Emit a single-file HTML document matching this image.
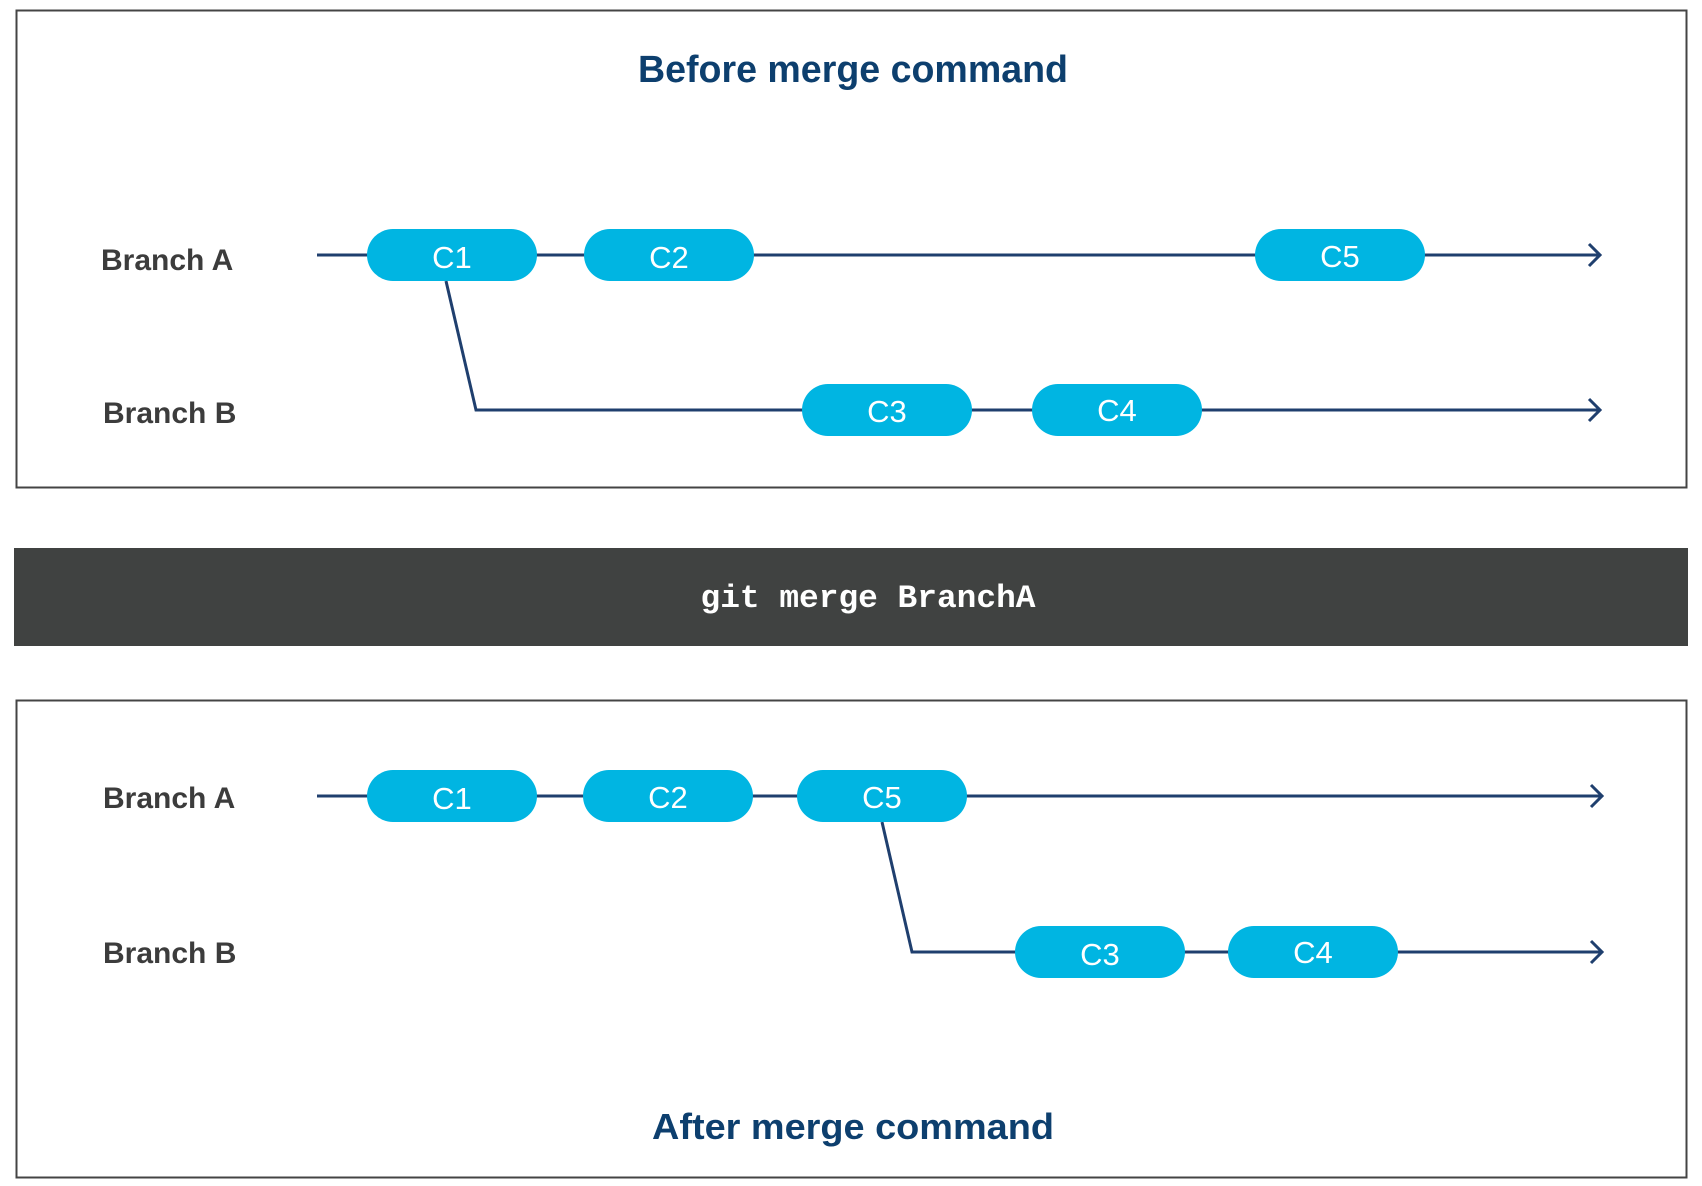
<!DOCTYPE html>
<html><head><meta charset="utf-8"><style>
html,body{margin:0;padding:0;background:#fff;}
svg{display:block;}
</style></head><body>
<svg width="1702" height="1186" viewBox="0 0 1702 1186" xmlns="http://www.w3.org/2000/svg">
<rect x="0" y="0" width="1702" height="1186" fill="#fff"/>
<!-- top box -->
<rect x="16.5" y="10.5" width="1670" height="477" fill="none" stroke="#444" stroke-width="2"/>
<text x="853" y="82" text-anchor="middle" font-family="Liberation Sans, sans-serif" font-weight="bold" font-size="38" fill="#0d3f6e" textLength="430" lengthAdjust="spacingAndGlyphs">Before merge command</text>
<g font-family="Liberation Sans, sans-serif" font-weight="bold" font-size="30" fill="#3c3c3c">
<text x="101" y="270">Branch A</text>
<text x="103" y="423">Branch B</text>
<text x="103" y="808">Branch A</text>
<text x="103" y="963">Branch B</text>
</g>
<g stroke="#1f3f6e" stroke-width="3" fill="none">
<line x1="317" y1="255" x2="1600" y2="255"/>
<polyline points="1589,244 1600,255 1589,266"/>
<polyline points="446,281 476,410 1600,410"/>
<polyline points="1589,399 1600,410 1589,421"/>
<line x1="317" y1="796" x2="1602" y2="796"/>
<polyline points="1591,785 1602,796 1591,807"/>
<polyline points="882,822 912,952 1602,952"/>
<polyline points="1591,941 1602,952 1591,963"/>
</g>
<g fill="#00b5e2">
<rect x="367" y="229" width="170" height="52" rx="26"/>
<rect x="584" y="229" width="170" height="52" rx="26"/>
<rect x="1255" y="229" width="170" height="52" rx="26"/>
<rect x="802" y="384" width="170" height="52" rx="26"/>
<rect x="1032" y="384" width="170" height="52" rx="26"/>
<rect x="367" y="770" width="170" height="52" rx="26"/>
<rect x="583" y="770" width="170" height="52" rx="26"/>
<rect x="797" y="770" width="170" height="52" rx="26"/>
<rect x="1015" y="926" width="170" height="52" rx="26"/>
<rect x="1228" y="926" width="170" height="52" rx="26"/>
</g>
<g font-family="Liberation Sans, sans-serif" font-size="31" fill="#fff" text-anchor="middle">
<text x="452" y="268">C1</text>
<text x="669" y="268">C2</text>
<text x="1340" y="267">C5</text>
<text x="887" y="422">C3</text>
<text x="1117" y="421">C4</text>
<text x="452" y="809">C1</text>
<text x="668" y="808">C2</text>
<text x="882" y="808">C5</text>
<text x="1100" y="965">C3</text>
<text x="1313" y="963">C4</text>
</g>
<!-- command bar -->
<rect x="14" y="548" width="1674" height="98" fill="#404241"/>
<text x="868" y="607" text-anchor="middle" font-family="Liberation Mono, monospace" font-weight="bold" font-size="32" fill="#fff" textLength="335" lengthAdjust="spacingAndGlyphs">git merge BranchA</text>
<!-- bottom box -->
<rect x="16.5" y="700.5" width="1670" height="477" fill="none" stroke="#444" stroke-width="2"/>
<text x="853" y="1139" text-anchor="middle" font-family="Liberation Sans, sans-serif" font-weight="bold" font-size="36" fill="#0d3f6e" textLength="402" lengthAdjust="spacingAndGlyphs">After merge command</text>
</svg>
</body></html>
